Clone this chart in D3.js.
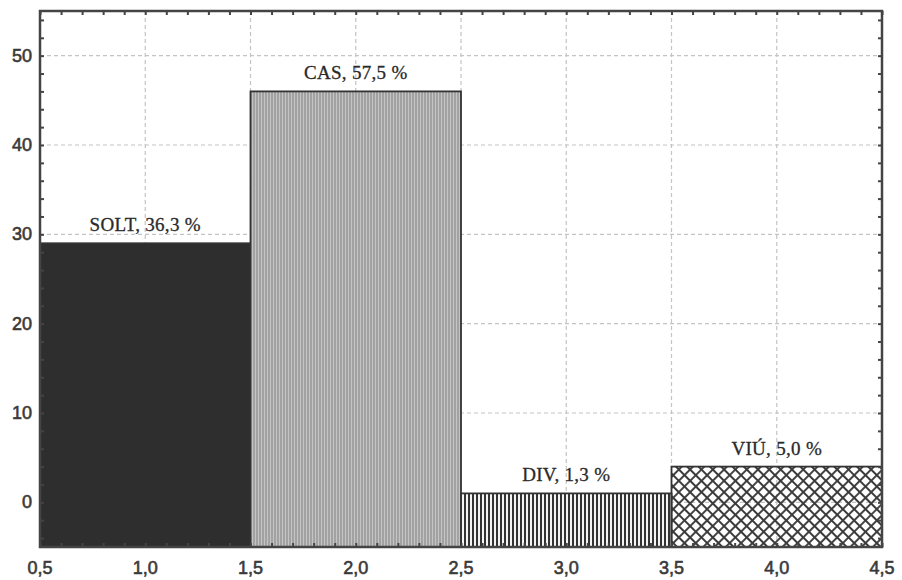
<!DOCTYPE html>
<html>
<head>
<meta charset="utf-8">
<script src="https://cdn.jsdelivr.net/npm/d3@7"></script>
<style>
  body { margin: 0; background: #fff; }
  .tick-label { font-family: "Liberation Sans", Arial, sans-serif; font-size: 18px; fill: #3a3a3a; stroke: #3a3a3a; stroke-width: 0.6px; }
  .bar-label { font-family: "Liberation Serif", "Times New Roman", serif; font-size: 19px; fill: #2a2a2a; stroke: #2a2a2a; stroke-width: 0.3px; letter-spacing: 0.3px; }
</style>
</head>
<body>
<svg id="chart" width="902" height="580"></svg>
<script>
// marital status counts (bars are centred on 1..4, one unit wide)
const categories = ["SOLT", "CAS", "DIV", "VIÚ"];
const centers = [1, 2, 3, 4];
const counts = [29, 46, 1, 4];
const percents = ["36,3", "57,5", "1,3", "5,0"];
const xTicks = [0.5, 1.0, 1.5, 2.0, 2.5, 3.0, 3.5, 4.0, 4.5];
const yTicks = [0, 10, 20, 30, 40, 50];

const fills = ["#2e2e2e", "url(#pCas)", "url(#pDiv)", "url(#pViu)"];

const comma = d3.formatLocale({decimal: ",", thousands: ".", grouping: [3], currency: ["", ""]});
const fmtX = comma.format(".1f");

let svg = d3.select("#chart");

let x = d3.scaleLinear().domain([0.5, 4.5]).range([40, 882]);
let y = d3.scaleLinear().domain([-5, 55]).range([547, 11]);

// patterns
let defs = svg.append("defs");

let pCas = defs.append("pattern")
  .attr("id", "pCas").attr("patternUnits", "userSpaceOnUse")
  .attr("width", 3).attr("height", 10);
pCas.append("rect").attr("width", 3).attr("height", 10).attr("fill", "#a2a2a2");
pCas.append("rect").attr("width", 1).attr("height", 10).attr("fill", "#c4c4c4");

let pDiv = defs.append("pattern")
  .attr("id", "pDiv").attr("patternUnits", "userSpaceOnUse")
  .attr("width", 4).attr("height", 10);
pDiv.append("rect").attr("width", 4).attr("height", 10).attr("fill", "#f4f4f4");
pDiv.append("rect").attr("width", 2).attr("height", 10).attr("fill", "#333");

let pViu = defs.append("pattern")
  .attr("id", "pViu").attr("patternUnits", "userSpaceOnUse")
  .attr("width", 8).attr("height", 8)
  .attr("patternTransform", "rotate(45)");
pViu.append("path").attr("d", "M4,0V8M0,4H8")
  .attr("stroke", "#3a3a3a").attr("stroke-width", 1.9).attr("fill", "none");

// grid
let grid = svg.append("g").attr("stroke", "#c4c4c4").attr("stroke-width", 1.2)
  .attr("stroke-dasharray", "4,3");
grid.selectAll("line.v")
  .data(xTicks.slice(1, -1))
  .enter().append("line")
  .attr("class", "v")
  .attr("x1", d => x(d)).attr("x2", d => x(d))
  .attr("y1", y(55)).attr("y2", y(-5));
grid.selectAll("line.h")
  .data(yTicks)
  .enter().append("line")
  .attr("class", "h")
  .attr("x1", x(0.5)).attr("x2", x(4.5))
  .attr("y1", d => y(d)).attr("y2", d => y(d));

// bars
svg.append("g")
  .selectAll("rect")
  .data(counts)
  .enter()
  .append("rect")
  .attr("x", (d, i) => x(centers[i] - 0.5))
  .attr("width", (d, i) => x(centers[i] + 0.5) - x(centers[i] - 0.5))
  .attr("y", d => y(d))
  .attr("height", d => y(-5) - y(d))
  .attr("fill", (d, i) => fills[i])
  .attr("stroke", "#333")
  .attr("stroke-width", 1.8);

// bar labels
svg.append("g")
  .selectAll("text")
  .data(counts)
  .enter()
  .append("text")
  .attr("class", "bar-label")
  .attr("x", (d, i) => x(centers[i]))
  .attr("y", d => y(d) - 12)
  .attr("text-anchor", "middle")
  .text((d, i) => categories[i] + ", " + percents[i] + " %");

// minor ticks on all four sides, pointing inward
let xMinor = d3.range(5, 46).map(d => d / 10);
let yMinor = d3.range(-4, 55, 2);

function tickStyle(g) {
  g.select(".domain").remove();
  g.selectAll("line").attr("stroke", "#444").attr("stroke-width", 2);
  g.selectAll("text").remove();
}

svg.append("g").attr("transform", "translate(0," + y(55) + ")")
  .call(d3.axisTop(x).tickValues(xMinor).tickSize(-4)).call(tickStyle);
svg.append("g").attr("transform", "translate(0," + y(-5) + ")")
  .call(d3.axisBottom(x).tickValues(xMinor).tickSize(-4)).call(tickStyle);
svg.append("g").attr("transform", "translate(" + x(0.5) + ",0)")
  .call(d3.axisLeft(y).tickValues(yMinor).tickSize(-4)).call(tickStyle);
svg.append("g").attr("transform", "translate(" + x(4.5) + ",0)")
  .call(d3.axisRight(y).tickValues(yMinor).tickSize(-4)).call(tickStyle);

// frame
svg.append("rect")
  .attr("x", x(0.5)).attr("y", y(55))
  .attr("width", x(4.5) - x(0.5)).attr("height", y(-5) - y(55))
  .attr("fill", "none").attr("stroke", "#444").attr("stroke-width", 2.5);

// tick labels
svg.append("g")
  .selectAll("text")
  .data(xTicks)
  .enter().append("text")
  .attr("class", "tick-label")
  .attr("x", d => x(d))
  .attr("y", 574)
  .attr("text-anchor", "middle")
  .text(d => fmtX(d));

svg.append("g")
  .selectAll("text")
  .data(yTicks)
  .enter().append("text")
  .attr("class", "tick-label")
  .attr("x", 32)
  .attr("y", d => y(d) + 6)
  .attr("text-anchor", "end")
  .text(d => d);
</script>
</body>
</html>
